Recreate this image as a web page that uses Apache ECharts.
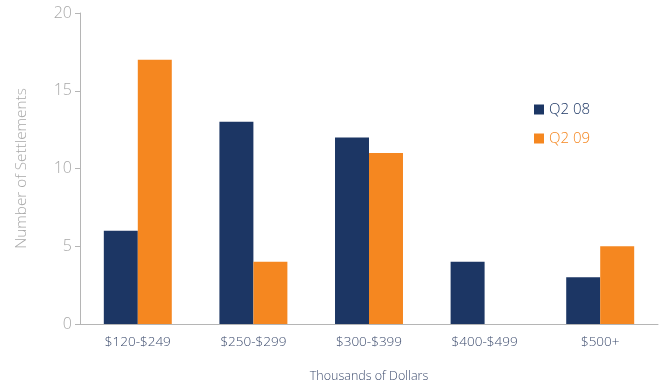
<!DOCTYPE html>
<html>
<head>
<meta charset="utf-8">
<script src="https://cdn.jsdelivr.net/npm/echarts@6/dist/echarts.min.js"></script>
<style>html,body{margin:0;padding:0;background:#fff;}#c{width:665px;height:388px;}</style>
</head>
<body>
<div id="c"></div>
<script>
var categories = ['$120-$249', '$250-$299', '$300-$399', '$400-$499', '$500+'];
var q208 = [6, 13, 12, 4, 3];
var q209 = [17, 4, 11, 0, 5];
var seriesNames = ['Q2 08', 'Q2 09'];
var yTicks = { min: 0, max: 20, interval: 5 };

var navy = '#1c3664', orange = '#f58720';
var font = 'Open Sans';
var chart = echarts.init(document.getElementById('c'));
chart.setOption({
  animation: false,
  backgroundColor: '#fff',
  grid: { left: 80, right: 7, top: 13, bottom: 64 },
  legend: {
    orient: 'vertical', left: 529, top: 97, itemWidth: 10, itemHeight: 10, itemGap: 14,
    icon: 'rect',
    textStyle: { fontFamily: font, fontSize: 15, fontWeight: 300 },
    data: [
      { name: seriesNames[0], textStyle: { color: navy } },
      { name: seriesNames[1], textStyle: { color: orange } }
    ]
  },
  xAxis: {
    type: 'category', data: categories,
    name: 'Thousands of Dollars', nameLocation: 'middle', nameGap: 46,
    nameTextStyle: { fontFamily: font, fontSize: 12.5, color: '#3d4c6e', fontWeight: 300 },
    axisLine: { lineStyle: { color: '#b5b5b5', width: 1 } },
    axisTick: { length: 5, lineStyle: { color: '#b5b5b5' } },
    axisLabel: { fontFamily: font, fontSize: 13.5, color: '#3d4c6e', margin: 11, fontWeight: 300 }
  },
  yAxis: {
    type: 'value', min: yTicks.min, max: yTicks.max, interval: yTicks.interval,
    name: 'Number of Settlements', nameLocation: 'middle', nameGap: 51, nameRotate: 90,
    nameTextStyle: { fontFamily: font, fontSize: 15.3, color: '#a8a8a8', fontWeight: 300 },
    axisLine: { show: true, lineStyle: { color: '#b5b5b5', width: 1 } },
    axisTick: { show: true, length: 5, lineStyle: { color: '#b5b5b5' } },
    splitLine: { show: false },
    axisLabel: { fontFamily: font, fontSize: 16, color: '#a8a8a8', margin: 8, fontWeight: 300 }
  },
  series: [
    { name: seriesNames[0], type: 'bar', data: q208, barWidth: '29.4%', barGap: '0%', itemStyle: { color: navy } },
    { name: seriesNames[1], type: 'bar', data: q209, barWidth: '29.4%', barGap: '0%', itemStyle: { color: orange } }
  ]
});
</script>
</body>
</html>
